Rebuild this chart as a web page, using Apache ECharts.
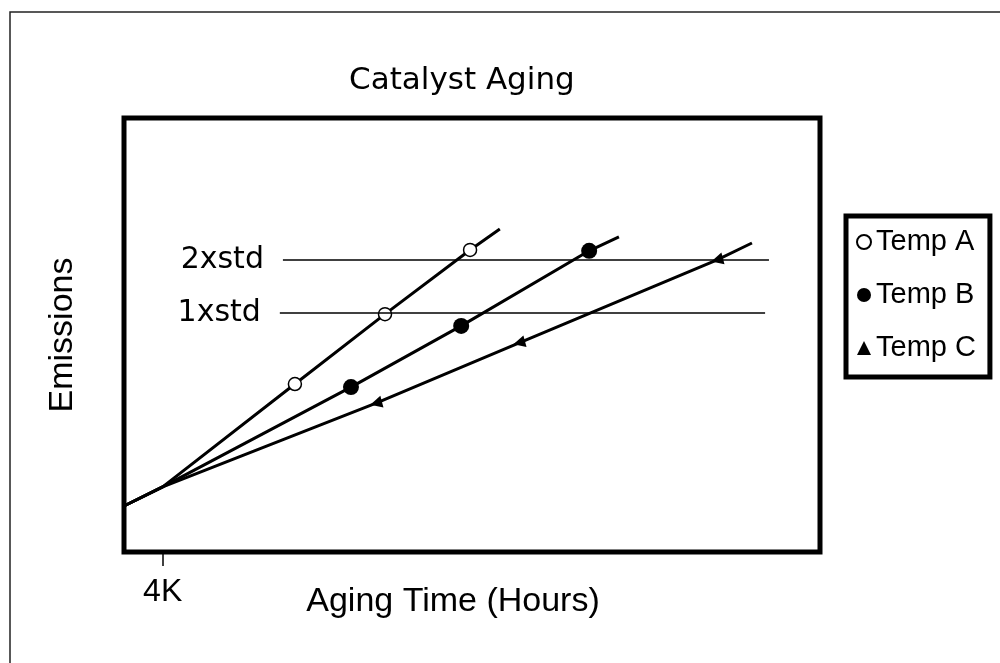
<!DOCTYPE html>
<html>
<head>
<meta charset="utf-8">
<title>Catalyst Aging</title>
<script src="https://cdn.jsdelivr.net/npm/echarts@6/dist/echarts.min.js"></script>
<style>
    html, body { margin: 0; padding: 0; background: #fff; }
    #chart { width: 1000px; height: 663px; }
</style>
</head>
<body>
<div id="chart"></div>
<script>
// aging time in thousands of hours, emissions in arbitrary units
let seriesNames = ["Temp A", "Temp B", "Temp C"];
let hoursA = [3, 4, 7.42, 9.75, 11.95, 12.72];
let emissionsA = [10.6, 15, 38.7, 54.8, 69.6, 74.4];
let hoursB = [3, 4, 8.87, 11.72, 15.03, 15.8];
let emissionsB = [10.6, 15, 38.0, 52.1, 69.4, 72.6];
let hoursC = [3, 4, 9.52, 13.22, 18.34, 19.24];
let emissionsC = [10.6, 15, 34.3, 48.2, 67.3, 71.2];
// only the measured points get a marker, the others extend the fitted line
let measured = [false, false, true, true, true, false];

let stdNames = ["2xstd", "1xstd"];
let stdLevels = [67.3, 55.1];
let stdStart = [7.11, 7.03];
let stdEnd = [19.68, 19.58];

let xTicks = [4];
let xTickLabels = ["4K"];

function lineData(hours, emissions) {
    return hours.map(function (h, i) {
        let item = { value: [h, emissions[i]] };
        if (!measured[i]) {
            item.symbol = "none";
        }
        return item;
    });
}

function paint(element) {
    let chart = echarts.init(document.getElementById(element));
    let labelFont = "Liberation Sans";
    let option = {
        animation: false,
        backgroundColor: "#fff",
        title: {
            text: "Catalyst Aging",
            left: 349,
            top: 65,
            padding: 0,
            textStyle: {
                fontFamily: "DejaVu Sans",
                fontSize: 31,
                fontWeight: "normal",
                color: "#000"
            }
        },
        graphic: [
            {
                type: "rect",
                silent: true,
                z: -10,
                shape: { x: 10, y: 12, width: 1000, height: 700 },
                style: { fill: "none", stroke: "#222", lineWidth: 1.5 }
            }
        ],
        grid: {
            left: 124,
            top: 118,
            width: 696,
            height: 434,
            show: true,
            borderColor: "#000",
            borderWidth: 5
        },
        legend: {
            orient: "vertical",
            left: 846,
            top: 216,
            padding: [11, 14, 14, 10],
            borderColor: "#000",
            borderWidth: 5,
            itemWidth: 14,
            itemHeight: 14,
            itemGap: 23,
            symbolRotate: 0,
            selectedMode: false,
            textStyle: {
                fontFamily: labelFont,
                fontSize: 29,
                lineHeight: 30,
                color: "#000"
            },
            data: [
                { name: seriesNames[0], icon: "circle" },
                { name: seriesNames[1], icon: "circle" },
                { name: seriesNames[2], icon: "triangle" }
            ]
        },
        xAxis: {
            type: "value",
            min: 3,
            max: 21,
            axisLine: { show: false },
            splitLine: { show: false },
            axisTick: {
                show: true,
                customValues: xTicks,
                length: 14,
                lineStyle: { color: "#000", width: 1.5 }
            },
            axisLabel: {
                customValues: xTicks,
                formatter: function (v) {
                    return xTickLabels[xTicks.indexOf(v)];
                },
                fontFamily: labelFont,
                fontSize: 32,
                color: "#000",
                margin: 24
            },
            name: "Aging Time (Hours)",
            nameLocation: "middle",
            nameGap: 33,
            nameMoveOverlap: false,
            nameTextStyle: {
                fontFamily: labelFont,
                fontSize: 34,
                color: "#000",
                padding: [0, 38, 0, 0]
            }
        },
        yAxis: {
            type: "value",
            min: 0,
            max: 100,
            axisLine: { show: false },
            axisTick: { show: false },
            axisLabel: { show: false },
            splitLine: { show: false },
            name: "Emissions",
            nameLocation: "middle",
            nameGap: 44,
            nameTextStyle: {
                fontFamily: labelFont,
                fontSize: 34,
                color: "#000"
            }
        },
        series: [
            {
                name: seriesNames[0],
                type: "line",
                data: lineData(hoursA, emissionsA),
                symbol: "circle",
                symbolSize: 13,
                showAllSymbol: true,
                itemStyle: { color: "#fff", borderColor: "#000", borderWidth: 1.5 },
                lineStyle: { color: "#000", width: 3 },
                emphasis: { disabled: true },
                z: 3
            },
            {
                name: seriesNames[1],
                type: "line",
                data: lineData(hoursB, emissionsB),
                symbol: "circle",
                symbolSize: 16,
                showAllSymbol: true,
                itemStyle: { color: "#000" },
                lineStyle: { color: "#000", width: 3 },
                emphasis: { disabled: true },
                z: 3
            },
            {
                name: seriesNames[2],
                type: "line",
                data: lineData(hoursC, emissionsC),
                symbol: "triangle",
                symbolSize: 12,
                symbolRotate: 105,
                showAllSymbol: true,
                itemStyle: { color: "#000" },
                lineStyle: { color: "#000", width: 3 },
                emphasis: { disabled: true },
                z: 3
            },
            {
                name: "std",
                type: "line",
                data: [],
                silent: true,
                markLine: {
                    silent: true,
                    symbol: ["none", "none"],
                    lineStyle: { color: "#000", width: 1.5, type: "solid" },
                    label: {
                        show: true,
                        position: "start",
                        distance: 19,
                        formatter: "{b}",
                        fontFamily: "DejaVu Sans",
                        fontSize: 30,
                        color: "#000"
                    },
                    emphasis: { disabled: true },
                    data: stdLevels.map(function (level, i) {
                        return [
                            { name: stdNames[i], coord: [stdStart[i], level] },
                            { coord: [stdEnd[i], level] }
                        ];
                    })
                }
            }
        ]
    };
    chart.setOption(option);
    window.onresize = function () {
        chart.resize();
    };
}

paint("chart");
</script>
</body>
</html>
